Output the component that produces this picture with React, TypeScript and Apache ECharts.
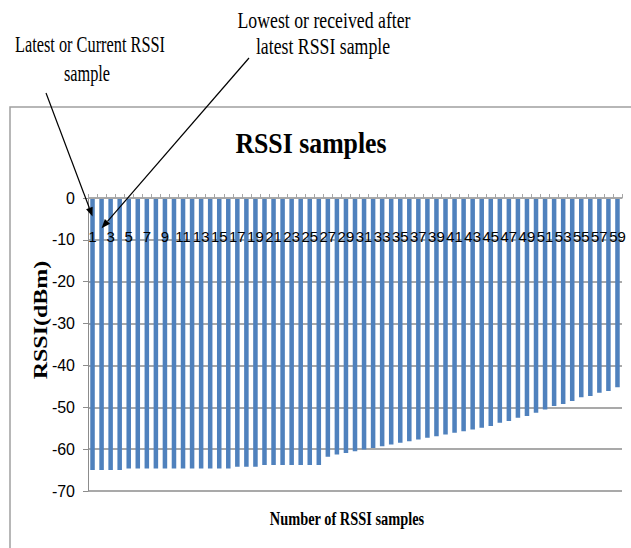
import React, { useEffect, useRef } from "react";
import * as echarts from "echarts";

// Sample numbers shown along the category axis
const sampleNumbers = [
  "1", "2", "3", "4", "5", "6", "7", "8", "9", "10",
  "11", "12", "13", "14", "15", "16", "17", "18", "19", "20",
  "21", "22", "23", "24", "25", "26", "27", "28", "29", "30",
  "31", "32", "33", "34", "35", "36", "37", "38", "39", "40",
  "41", "42", "43", "44", "45", "46", "47", "48", "49", "50",
  "51", "52", "53", "54", "55", "56", "57", "58", "59",
];

// RSSI reading (dBm) for each sample
const rssiValues = [
  -65, -65, -65, -65,
  -64.6, -64.6, -64.6, -64.6, -64.6, -64.6, -64.6, -64.6, -64.6, -64.6, -64.6, -64.6,
  -64.2, -64.2, -64.2,
  -63.8, -63.8, -63.8, -63.8, -63.8, -63.8, -63.8,
  -61.8, -61.3, -60.9, -60.5, -60.1, -59.7, -59.3, -58.9, -58.5, -58.1,
  -57.7, -57.3, -56.9, -56.5, -56.1, -55.7, -55.3, -54.9, -54.5, -53.7,
  -53.3, -52.5, -52.1, -51.3, -50.5, -49.7, -49.2, -48.5, -47.6, -47.3,
  -46.5, -46.1, -45.2,
];

// Value axis range
const yMin = -70;
const yMax = 0;
const yStep = 10;

// Where each annotation arrow points: [sample, dBm]
const currentSampleTarget = ["1", -4.4];
const lowestSampleTarget = ["2", -7.2];

const SANS = "'Liberation Sans Narrow', 'Liberation Sans', Arial, sans-serif";
const SERIF = "'Liberation Serif', 'Times New Roman', serif";

const WIDTH = 631;
const HEIGHT = 548;
const GRID = { left: 88, right: 9, top: 198, bottom: 57 };
const PLOT_HEIGHT = HEIGHT - GRID.top - GRID.bottom;

function arrow(start: number[], tip: number[]) {
  const dx = tip[0] - start[0];
  const dy = tip[1] - start[1];
  const len = Math.sqrt(dx * dx + dy * dy);
  const ux = dx / len;
  const uy = dy / len;
  const headLen = 9;
  const headHalf = 3.5;
  const bx = tip[0] - ux * headLen;
  const by = tip[1] - uy * headLen;
  return [
    {
      type: "line",
      silent: true,
      shape: { x1: start[0], y1: start[1], x2: bx, y2: by },
      style: { stroke: "#000", lineWidth: 1.2 },
      z: 10,
    },
    {
      type: "polygon",
      silent: true,
      shape: {
        points: [
          [tip[0], tip[1]],
          [bx - uy * headHalf, by + ux * headHalf],
          [bx + uy * headHalf, by - ux * headHalf],
        ],
      },
      style: { fill: "#000" },
      z: 10,
    },
  ];
}

function label(
  text: string,
  x: number,
  y: number,
  fontSize: number,
  fontWeight: string,
  scaleX: number,
  extra: Record<string, unknown> = {}
) {
  return {
    type: "text",
    silent: true,
    x,
    y,
    scaleX,
    z: 10,
    ...extra,
    style: {
      text,
      x: 0,
      y: 0,
      align: "center",
      verticalAlign: "middle",
      fontSize,
      fontWeight,
      fontFamily: SERIF,
      fill: "#000",
    },
  };
}

export default function App() {
  const ref = useRef<HTMLDivElement>(null);

  useEffect(() => {
    document.body.style.margin = "0";
    if (!ref.current) return;
    const chart = echarts.init(ref.current, undefined, { renderer: "svg" });

    chart.setOption({
      animation: false,
      backgroundColor: "#fff",
      grid: { ...GRID, containLabel: false },
      xAxis: {
        type: "category",
        data: sampleNumbers,
        position: "bottom",
        // the category axis sits on the 0 dBm line, i.e. the top of the plot
        offset: -PLOT_HEIGHT,
        z: 5,
        axisLine: { onZero: false, lineStyle: { color: "#a6a6a6", width: 1 } },
        axisTick: {
          show: true,
          inside: true,
          length: 4,
          interval: 0,
          alignWithLabel: false,
          lineStyle: { color: "#a6a6a6" },
        },
        axisLabel: {
          interval: 1,
          margin: 31,
          fontSize: 15,
          fontFamily: SANS,
          color: "#000",
        },
        splitLine: { show: false },
      },
      yAxis: {
        type: "value",
        min: yMin,
        max: yMax,
        interval: yStep,
        axisLine: { show: true, lineStyle: { color: "#8c8c8c", width: 1 } },
        axisTick: { show: true, length: 5, lineStyle: { color: "#8c8c8c" } },
        axisLabel: { margin: 13, fontSize: 16, fontFamily: SANS, color: "#000" },
        splitLine: { show: true, lineStyle: { color: "#8c8c8c", width: 1.5 } },
      },
      series: [
        {
          type: "bar",
          data: rssiValues,
          barWidth: "50%",
          z: 2,
          itemStyle: { color: "#4f81bd" },
        },
      ],
    });

    const tip1 = chart.convertToPixel({ gridIndex: 0 }, currentSampleTarget) as number[];
    const tip2 = chart.convertToPixel({ gridIndex: 0 }, lowestSampleTarget) as number[];

    chart.setOption({
      graphic: [
        {
          type: "rect",
          silent: true,
          shape: { x: 10, y: 107, width: 700, height: 500 },
          style: { fill: "none", stroke: "#a0a0a0", lineWidth: 1.5 },
          z: 0,
        },
        label("RSSI samples", 311, 143, 30, "bold", 0.86),
        label("Number of RSSI samples", 347, 519, 18, "bold", 0.8),
        label("RSSI(dBm)", 41, 320, 24, "bold", 1, { rotation: Math.PI / 2, scaleY: 0.75 }),
        label("Latest or Current RSSI", 90, 44, 24, "normal", 0.68),
        label("sample", 87, 73, 24, "normal", 0.68),
        label("Lowest or received after", 324, 20, 24, "normal", 0.74),
        label("latest RSSI sample", 323, 46, 24, "normal", 0.74),
        ...arrow([46, 93], tip1),
        ...arrow([249, 58], tip2),
      ],
    });

    return () => chart.dispose();
  }, []);

  return <div ref={ref} style={{ width: WIDTH, height: HEIGHT }} />;
}
